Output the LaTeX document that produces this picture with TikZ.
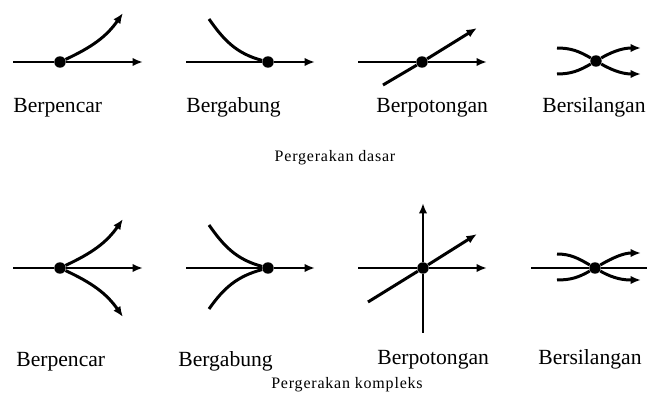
\documentclass[tikz,border=0pt]{standalone}
\usepackage{fontspec}
\setmainfont{Liberation Serif}
\usetikzlibrary{arrows.meta}
\tikzset{
  track/.style={line width=1.7pt,-{Latex[length=2.1mm,width=1.7mm]}},
  plain/.style={line width=1.7pt},
  junc/.style={circle,fill=black,inner sep=0pt,minimum size=0.23cm},
  lbl/.style={anchor=base west,font=\fontsize{12.3}{14}\selectfont,inner sep=0pt},
  captext/.style={font=\fontsize{9.1}{11}\selectfont\addfontfeature{LetterSpace=5},inner sep=0pt},
}

\begin{document}
\begin{tikzpicture}[x=0.02cm,y=0.02cm]
  \useasboundingbox (0,0) rectangle (647,403);
  % top row: basic movements
  \node[junc] (d1) at (60,341) {};
  \coordinate (l1) at (13,341);  \coordinate (r1) at (143,341);  \coordinate (u1) at (123,390);
  \draw[track] (l1) -- (d1) -- (r1);
  \draw[track] (d1) to[out=25,in=235] (u1);
  \node[junc] (d2) at (268,341) {};
  \coordinate (l2) at (186,341); \coordinate (r2) at (315,341); \coordinate (u2) at (209,384);
  \draw[track] (l2) -- (d2) -- (r2);
  \draw[plain] (u2) to[out=-55,in=165] (d2);
  \node[junc] (d3) at (422,341) {};
  \coordinate (l3) at (358,341); \coordinate (r3) at (487,341);
  \coordinate (s3) at (383,318); \coordinate (e3) at (477,375);
  \draw[track] (l3) -- (d3) -- (r3);
  \draw[track] (s3) -- (d3) -- (e3);
  \node[junc] (d4) at (596,342) {};
  \coordinate (a4) at (557,355); \coordinate (b4) at (641,355);
  \coordinate (c4) at (557,329); \coordinate (e4) at (641,329);
  \draw[track] (a4) to[out=0,in=150] (d4) to[out=30,in=180] (b4);
  \draw[track] (c4) to[out=0,in=210] (d4) to[out=-30,in=180] (e4);
  \node[lbl] (top1) at (13,290) {Berpencar};
  \node[lbl] (top2) at (186,290) {Bergabung};
  \node[lbl] (top3) at (376,290) {Berpotongan};
  \node[lbl] (top4) at (542,290) {Bersilangan};
  \node[captext] (dasar) at (335,245) {Pergerakan dasar};
  % bottom row: complex movements
  \node[junc] (k1) at (60,135) {};
  \coordinate (m1) at (13,135);  \coordinate (n1) at (143,135);
  \coordinate (p1) at (123,184); \coordinate (q1) at (123,86);
  \draw[track] (m1) -- (k1) -- (n1);
  \draw[track] (k1) to[out=25,in=235] (p1);
  \draw[track] (k1) to[out=-25,in=125] (q1);
  \node[junc] (k2) at (268,135) {};
  \coordinate (m2) at (186,135); \coordinate (n2) at (315,135);
  \coordinate (p2) at (209,178); \coordinate (q2) at (209,94);
  \draw[track] (m2) -- (k2) -- (n2);
  \draw[plain] (p2) to[out=-55,in=165] (k2);
  \draw[plain] (q2) to[out=55,in=195] (k2);
  \node[junc] (k3) at (423,135) {};
  \coordinate (m3) at (358,135); \coordinate (n3) at (487,135);
  \coordinate (p3) at (423,70);  \coordinate (q3) at (423,200);
  \coordinate (v3) at (368,101); \coordinate (w3) at (477,169);
  \draw[track] (m3) -- (k3) -- (n3);
  \draw[track] (p3) -- (k3) -- (q3);
  \draw[track] (v3) -- (k3) -- (w3);
  \node[junc] (k4) at (595,135) {};
  \coordinate (m4) at (531,135); \coordinate (n4) at (647,135);
  \coordinate (a5) at (557,149); \coordinate (b5) at (641,150);
  \coordinate (c5) at (557,123); \coordinate (e5) at (641,123);
  \draw[plain] (m4) -- (k4) -- (n4);
  \draw[track] (a5) to[out=0,in=150] (k4) to[out=30,in=180] (b5);
  \draw[track] (c5) to[out=0,in=210] (k4) to[out=-30,in=180] (e5);
  \node[lbl] (bot1) at (16,36) {Berpencar};
  \node[lbl] (bot2) at (178,36) {Bergabung};
  \node[lbl] (bot3) at (377,38) {Berpotongan};
  \node[lbl] (bot4) at (538,38) {Bersilangan};
  \node[captext] (kompleks) at (347,18) {Pergerakan kompleks};
\end{tikzpicture}
\end{document}
